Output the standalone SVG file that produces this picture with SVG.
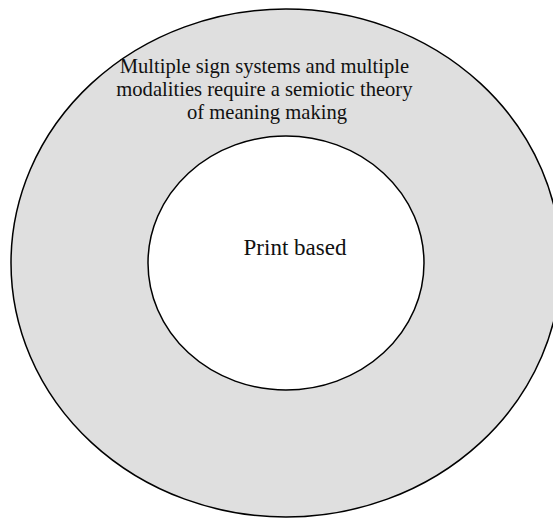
<svg xmlns="http://www.w3.org/2000/svg" width="553" height="520" viewBox="0 0 553 520">
  <style>
    .ring { stroke: #000; stroke-width: 1.5; }
    .label { font-family: "Liberation Serif", "Times New Roman", serif; fill: #111; text-anchor: middle; }
  </style>
  <rect width="553" height="520" fill="#fff"/>
  <!-- outer layer: multimodal meaning making -->
  <g id="outer">
    <ellipse class="ring" cx="286" cy="263" rx="275" ry="254" fill="#dfdfdf"/>
    <text class="label" font-size="20.6">
      <tspan x="267" y="73">Multiple sign systems and multiple</tspan>
      <tspan x="267" y="96">modalities require a semiotic theory</tspan>
      <tspan x="267" y="119">of meaning making</tspan>
    </text>
  </g>
  <!-- inner core: print -->
  <g id="inner">
    <ellipse class="ring" cx="286" cy="263" rx="138" ry="127" fill="#fff"/>
    <text class="label" font-size="23" x="295" y="255">Print based</text>
  </g>
  <g id="connectors"/>
</svg>
